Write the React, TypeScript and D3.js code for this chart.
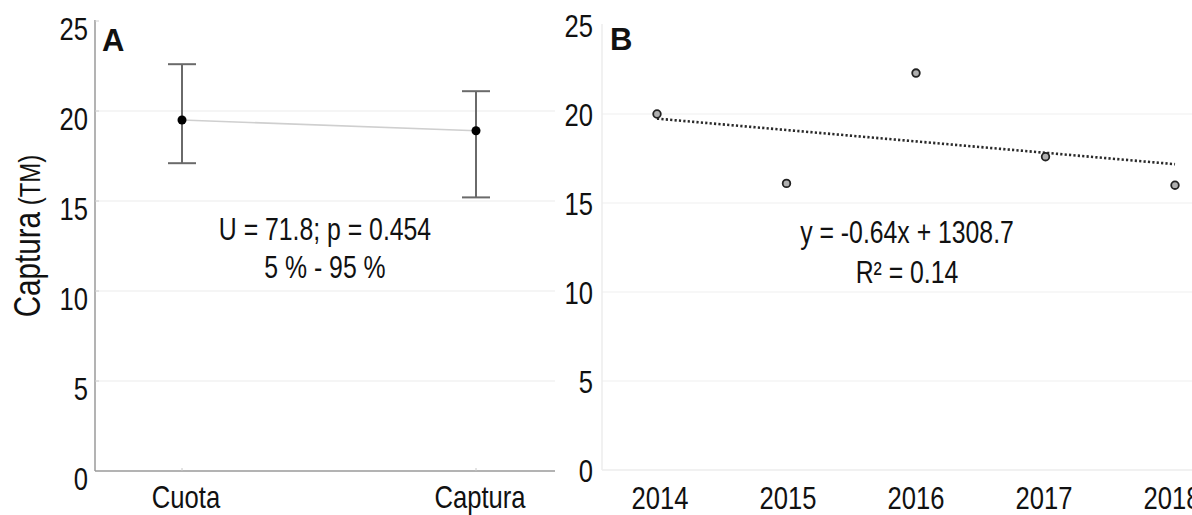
import React from "react";
import * as d3 from "d3";

// Panel A data
const groups = ["Cuota", "Captura"];
const means = [19.5, 18.9];
const lows = [17.1, 15.2];
const highs = [22.6, 21.1];
const statLines = ["U = 71.8; p = 0.454", "5 % - 95 %"];

// Panel B data
const years = [2014, 2015, 2016, 2017, 2018];
const catches = [20.0, 16.1, 22.3, 17.6, 16.0];
const trendSlope = -0.64;
const trendIntercept = 1308.7;
const trendLines = ["y = -0.64x + 1308.7", "R² = 0.14"];

const yTicks = [0, 5, 10, 15, 20, 25];

const FONT = "'Liberation Sans', Arial, sans-serif";
const NARROW = 0.8;

function T({ x, y, size, anchor = "middle", children, weight = "normal", fill = "#111", rotate = 0 }: any) {
  const tr = `translate(${x},${y}) rotate(${rotate}) scale(${NARROW},1)`;
  return (
    <text transform={tr} fontFamily={FONT} fontSize={size} textAnchor={anchor} fontWeight={weight} fill={fill}>
      {children}
    </text>
  );
}

export default function App() {
  // Panel A scales
  const xA = d3.scalePoint<string>().domain(groups).range([182, 476]);
  const yA = d3.scaleLinear().domain([0, 25]).range([471, 21]);
  // Panel B scales
  const xB = d3.scaleLinear().domain([2014, 2018]).range([657, 1175]);
  const yB = d3.scaleLinear().domain([0, 25]).range([470, 25]);
  // year label positions (slightly tighter than the points in the original)
  const xBLabel = d3.scaleLinear().domain([2014, 2018]).range([660, 1172]);

  const meanLine = d3
    .line<number>()
    .x((_, i) => xA(groups[i]) as number)
    .y((d) => yA(d))(means);

  const trend = d3
    .line<number>()
    .x((d) => xB(d))
    .y((d) => yB(trendSlope * d + trendIntercept))([years[0], years[years.length - 1]]);

  const capW = 14;

  return (
    <div style={{ position: "absolute", left: 0, top: 0 }}>
      <svg width={1192} height={515} style={{ display: "block", background: "#fff" }}>
        {/* Panel A grid */}
        {yTicks.filter((t) => t > 0 && t < 25).map((t) => (
          <line key={"ga" + t} x1={95} x2={555} y1={yA(t)} y2={yA(t)} stroke="#ececec" strokeWidth={1.2} />
        ))}
        {/* Panel A axes */}
        <line x1={95} x2={95} y1={20} y2={yA(0)} stroke="#9a9a9a" strokeWidth={1.5} />
        <line x1={95} x2={555} y1={yA(0)} y2={yA(0)} stroke="#9a9a9a" strokeWidth={1.5} />
        {yTicks.filter((t) => t > 0).map((t) => (
          <line key={"ta" + t} x1={95} x2={99} y1={yA(t)} y2={yA(t)} stroke="#d0d0d0" strokeWidth={1} />
        ))}
        {groups.map((g) => (
          <line key={"tx" + g} x1={xA(g)} x2={xA(g)} y1={yA(0)} y2={yA(0) - 3} stroke="#c8c8c8" strokeWidth={1} />
        ))}
        {yTicks.map((t) => (
          <T key={"la" + t} x={88} y={yA(t) + 19} size={32} anchor="end">{t}</T>
        ))}
        {groups.map((g) => (
          <T key={"lx" + g} x={(xA(g) as number) + 4} y={508} size={32}>{g}</T>
        ))}
        <T x={40} y={236} size={37} rotate={-90}>
          <tspan>Captura</tspan>
          <tspan fontSize={30}> (TM)</tspan>
        </T>
        <text x={102} y={51} fontFamily={FONT} fontSize={31} fontWeight="bold" fill="#111">A</text>

        {/* Panel A data */}
        <path d={meanLine || ""} fill="none" stroke="#cfcfcf" strokeWidth={1.6} />
        {groups.map((g, i) => {
          const cx = xA(g) as number;
          return (
            <g key={"eb" + g}>
              <line x1={cx} x2={cx} y1={yA(highs[i])} y2={yA(lows[i])} stroke="#6a6a6a" strokeWidth={2} />
              <line x1={cx - capW} x2={cx + capW} y1={yA(highs[i])} y2={yA(highs[i])} stroke="#6a6a6a" strokeWidth={2} />
              <line x1={cx - capW} x2={cx + capW} y1={yA(lows[i])} y2={yA(lows[i])} stroke="#6a6a6a" strokeWidth={2} />
              <circle cx={cx} cy={yA(means[i])} r={4.5} fill="#000" />
            </g>
          );
        })}
        {statLines.map((s, i) => (
          <T key={"st" + i} x={325} y={240 + i * 38} size={31}>{s}</T>
        ))}

        {/* Panel B grid */}
        {yTicks.filter((t) => t > 0 && t < 25).map((t) => (
          <line key={"gb" + t} x1={602} x2={1192} y1={yB(t)} y2={yB(t)} stroke="#f0f0f0" strokeWidth={1.2} />
        ))}
        <line x1={602} x2={602} y1={24} y2={yB(0)} stroke="#ececec" strokeWidth={1.5} />
        <line x1={602} x2={1192} y1={yB(0)} y2={yB(0)} stroke="#ececec" strokeWidth={1.5} />
        {yTicks.map((t) => (
          <T key={"lb" + t} x={593} y={yB(t) + 12} size={32} anchor="end">{t}</T>
        ))}
        {years.map((yr) => (
          <T key={"ly" + yr} x={xBLabel(yr)} y={509} size={32}>{yr}</T>
        ))}
        <text x={610} y={50} fontFamily={FONT} fontSize={31} fontWeight="bold" fill="#111">B</text>

        {/* Panel B data */}
        <path d={trend || ""} fill="none" stroke="#2a2a2a" strokeWidth={2.6} strokeDasharray="2.2,2.2" />
        {years.map((yr, i) => (
          <circle key={"pt" + yr} cx={xB(yr)} cy={yB(catches[i])} r={3.8} fill="#b0b0b0" stroke="#222" strokeWidth={1.8} />
        ))}
        {trendLines.map((s, i) => (
          <T key={"tr" + i} x={907} y={243 + i * 40} size={31}>{s}</T>
        ))}
      </svg>
    </div>
  );
}
